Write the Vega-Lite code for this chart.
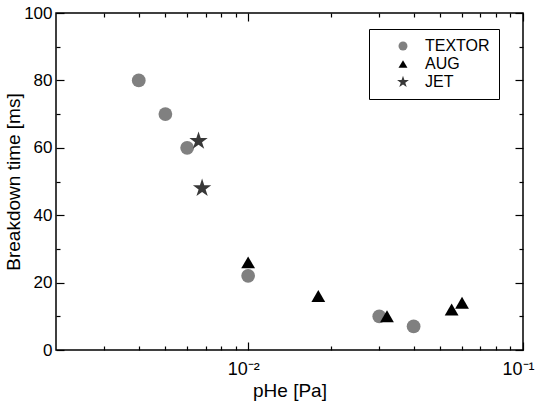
{
  "$schema": "https://vega.github.io/schema/vega-lite/v6.json",
  "width": 467,
  "height": 337,
  "autosize": {"type": "none"},
  "padding": {"left": 56, "top": 13, "right": 12, "bottom": 52},
  "background": "white",
  "config": {
    "font": "Liberation Sans",
    "view": {"stroke": "black", "strokeWidth": 1.5},
    "axis": {
      "domain": false,
      "tickColor": "black",
      "tickWidth": 1.2,
      "labelColor": "black",
      "titleColor": "black",
      "grid": false,
      "labelFont": "Liberation Sans",
      "titleFont": "Liberation Sans",
      "titleFontWeight": "normal",
      "labelOverlap": false,
      "labelFlush": false
    }
  },
  "data": {
    "values": [
      {"series": "TEXTOR", "p": 0.004, "t": 80},
      {"series": "TEXTOR", "p": 0.005, "t": 70},
      {"series": "TEXTOR", "p": 0.006, "t": 60},
      {"series": "TEXTOR", "p": 0.01, "t": 22},
      {"series": "TEXTOR", "p": 0.03, "t": 10},
      {"series": "TEXTOR", "p": 0.04, "t": 7},
      {"series": "AUG", "p": 0.01, "t": 26},
      {"series": "AUG", "p": 0.018, "t": 16},
      {"series": "AUG", "p": 0.032, "t": 10},
      {"series": "AUG", "p": 0.055, "t": 12},
      {"series": "AUG", "p": 0.06, "t": 14},
      {"series": "JET", "p": 0.0066, "t": 62},
      {"series": "JET", "p": 0.0068, "t": 48}
    ]
  },
  "layer": [
    {
      "mark": {"type": "point", "filled": true, "opacity": 1, "size": 190},
      "encoding": {
        "x": {
          "field": "p", "type": "quantitative",
          "scale": {"type": "log", "domain": [0.002, 0.1], "nice": false},
          "axis": {
            "orient": "bottom", "offset": -8, "tickSize": 8,
            "values": [0.01, 0.1],
            "labelExpr": "datum.value == 0.01 ? '10⁻²' : '10⁻¹'",
            "labelPadding": 10,
            "labelOffset": -5,
            "labelFontSize": 18,
            "title": "pHe [Pa]",
            "titleFontSize": 19,
            "titlePadding": 3
          }
        },
        "y": {
          "field": "t", "type": "quantitative",
          "scale": {"domain": [0, 100], "nice": false},
          "axis": {
            "orient": "left", "offset": -8, "tickSize": 8,
            "values": [0, 20, 40, 60, 80, 100],
            "labelPadding": 4,
            "labelFontSize": 17,
            "title": "Breakdown time [ms]",
            "titleFontSize": 19,
            "titlePadding": 0
          }
        },
        "shape": {
          "field": "series", "type": "nominal",
          "scale": {"domain": ["TEXTOR", "AUG", "JET"], "range": ["circle", "triangle-up", "M0,-1.4L0.314,-0.433L1.331,-0.433L0.508,0.165L0.823,1.133L0,0.535L-0.823,1.133L-0.508,0.165L-1.331,-0.433L-0.314,-0.433Z"]},
          "legend": {
            "orient": "none", "legendX": 313, "legendY": 16, "title": null,
            "strokeColor": "black", "fillColor": "white", "padding": 9,
            "symbolOffset": 17, "labelFontSize": 16, "symbolSize": 80,
            "rowPadding": 2, "labelOffset": 14, "labelColor": "black"
          }
        },
        "color": {
          "field": "series", "type": "nominal",
          "scale": {"domain": ["TEXTOR", "AUG", "JET"], "range": ["#808080", "#000000", "#383838"]},
          "legend": {
            "orient": "none", "legendX": 313, "legendY": 16, "title": null,
            "strokeColor": "black", "fillColor": "white", "padding": 9,
            "symbolOffset": 17, "labelFontSize": 16, "symbolSize": 80,
            "rowPadding": 2, "labelOffset": 14, "labelColor": "black"
          }
        }
      }
    },
    {
      "mark": {"type": "point", "opacity": 0},
      "encoding": {
        "x": {
          "field": "p", "type": "quantitative",
          "axis": {"orient": "top", "offset": -8, "tickSize": 8, "values": [0.01, 0.1], "labels": false, "title": null}
        },
        "y": {
          "field": "t", "type": "quantitative",
          "axis": {"orient": "right", "offset": -8, "tickSize": 8, "values": [0, 20, 40, 60, 80, 100], "labels": false, "title": null}
        }
      }
    },
    {
      "mark": {"type": "point", "opacity": 0},
      "encoding": {
        "x": {
          "field": "p", "type": "quantitative",
          "axis": {"orient": "bottom", "offset": -4, "tickSize": 4, "values": [0.003, 0.004, 0.005, 0.006, 0.007, 0.008, 0.009, 0.02, 0.03, 0.04, 0.05, 0.06, 0.07, 0.08, 0.09], "labels": false, "title": null}
        },
        "y": {
          "field": "t", "type": "quantitative",
          "axis": {"orient": "left", "offset": -4, "tickSize": 4, "values": [10, 30, 50, 70, 90], "labels": false, "title": null}
        }
      }
    },
    {
      "mark": {"type": "point", "opacity": 0},
      "encoding": {
        "x": {
          "field": "p", "type": "quantitative",
          "axis": {"orient": "top", "offset": -4, "tickSize": 4, "values": [0.003, 0.004, 0.005, 0.006, 0.007, 0.008, 0.009, 0.02, 0.03, 0.04, 0.05, 0.06, 0.07, 0.08, 0.09], "labels": false, "title": null}
        },
        "y": {
          "field": "t", "type": "quantitative",
          "axis": {"orient": "right", "offset": -4, "tickSize": 4, "values": [10, 30, 50, 70, 90], "labels": false, "title": null}
        }
      }
    }
  ],
  "resolve": {"axis": {"x": "independent", "y": "independent"}}
}
